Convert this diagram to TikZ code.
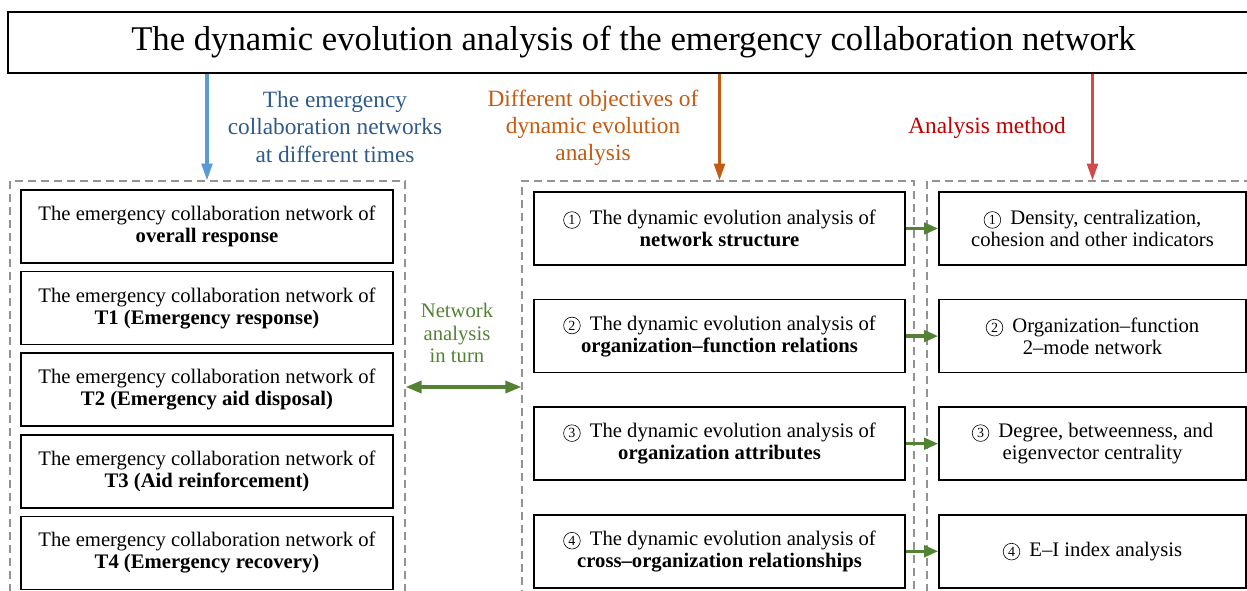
\documentclass[tikz,border=0pt]{standalone}
\usepackage{fontspec}
\setmainfont{Liberation Serif}
\usetikzlibrary{positioning,calc,arrows.meta}
\definecolor{arrowblue}{HTML}{5B9BD5}
\definecolor{textblue}{HTML}{2F5A8A}
\definecolor{darkorange}{HTML}{C55A11}
\definecolor{arrowred}{HTML}{D04A4A}
\definecolor{textred}{HTML}{C00000}
\definecolor{darkgreen}{HTML}{548235}
\newcommand{\circnum}[1]{\tikz[baseline=(cn.base)]\node[circle, draw=black, solid, line width=0.45pt,
    inner sep=0pt, minimum size=12.5pt, font=\fontsize{10.5}{10.5}\selectfont] (cn) {#1};\hspace{0.45em}}
\tikzset{
    evoflow/.style={
        x=0.75pt, y=-0.75pt,
        % Titolo in alto
        titlebox/.style={draw, rectangle, align=center, line width=1.2pt,
                         minimum width=938.25pt, minimum height=45.75pt,
                         inner sep=0pt, font=\fontsize{26}{30}\selectfont},
        % Riquadri delle reti, degli obiettivi e dei metodi
        netbox/.style={draw, rectangle, align=center, line width=1.2pt,
                       minimum width=279pt, minimum height=54.75pt,
                       inner sep=2pt, font=\fontsize{15.5}{16.5}\selectfont},
        objbox/.style={netbox, minimum width=278.25pt},
        methbox/.style={netbox, minimum width=230.25pt},
        % Gruppi tratteggiati
        groupbox/.style={draw=gray!85, rectangle, line width=0.9pt,
                         dash pattern=on 6pt off 3.75pt, inner sep=0pt},
        heading/.style={align=center, font=\fontsize{17.5}{20.3}\selectfont},
        downarrow/.style={line width=2.3pt, -{Triangle[length=12.5pt,width=8pt]}},
        greenarrow/.style={darkgreen, line width=2.5pt, -{Triangle[length=10.5pt,width=8.5pt]}},
        twoway/.style={darkgreen, line width=2.5pt,
                       {Triangle[length=12pt,width=9pt]}-{Triangle[length=12pt,width=9pt]}}
    }
}
\begin{document}
\begin{tikzpicture}[evoflow]
    \useasboundingbox (0,0) rectangle (1247,590);
    \node[titlebox] (title) at (633.5,42.5) {The dynamic evolution analysis of the emergency collaboration network};

    \node[groupbox, minimum width=296.25pt, minimum height=314.25pt] (leftgroup) at (207.5,390.5) {};
    \node[groupbox, minimum width=294pt, minimum height=314.25pt] (midgroup) at (718,390.5) {};
    \node[groupbox, minimum width=257.25pt, minimum height=314.25pt] (rightgroup) at (1098.5,390.5) {};

    \node[netbox] (net0) at (207,226.5) {The emergency collaboration network of\\\textbf{overall response}};
    \node[netbox, below=5.25pt of net0] (net1) {The emergency collaboration network of\\\textbf{T1 (Emergency response)}};
    \node[netbox, below=5.25pt of net1] (net2) {The emergency collaboration network of\\\textbf{T2 (Emergency aid disposal)}};
    \node[netbox, below=5.25pt of net2] (net3) {The emergency collaboration network of\\\textbf{T3 (Aid reinforcement)}};
    \node[netbox, below=5.25pt of net3] (net4) {The emergency collaboration network of\\\textbf{T4 (Emergency recovery)}};

    \node[objbox] (obj1) at (719.5,228.5) {\circnum{1}The dynamic evolution analysis of\\\textbf{network structure}};
    \node[objbox, below=24.75pt of obj1] (obj2) {\circnum{2}The dynamic evolution analysis of\\\textbf{organization–function relations}};
    \node[objbox, below=24.75pt of obj2] (obj3) {\circnum{3}The dynamic evolution analysis of\\\textbf{organization attributes}};
    \node[objbox, below=24.75pt of obj3] (obj4) {\circnum{4}The dynamic evolution analysis of\\\textbf{cross–organization relationships}};

    \node[methbox] (meth1) at (1092.5,228.5) {\circnum{1}Density, centralization,\\cohesion and other indicators};
    \node[methbox, below=24.75pt of meth1] (meth2) {\circnum{2}Organization–function\\2–mode network};
    \node[methbox, below=24.75pt of meth2] (meth3) {\circnum{3}Degree, betweenness, and\\eigenvector centrality};
    \node[methbox, below=24.75pt of meth3] (meth4) {\circnum{4}E–I index analysis};

    \node[heading, textblue] (bluelabel) at (335,127) {The emergency\\collaboration networks\\at different times};
    \node[heading, darkorange] (orangelabel) at (593,128) {Different objectives of\\dynamic evolution\\analysis};
    \node[heading, textred] (redlabel) at (987,128) {Analysis method};
    \node[align=center, darkgreen, font=\fontsize{15.5}{16.8}\selectfont] (turnlabel) at (457,333) {Network\\analysis\\in turn};
    \coordinate (turn) at (457,387);

    \draw[downarrow, arrowblue] (title.south -| net0.north) -- (net0.north |- leftgroup.north);
    \draw[downarrow, darkorange] (title.south -| obj1.north) -- (obj1.north |- midgroup.north);
    \draw[downarrow, arrowred] (title.south -| meth1.north) -- (meth1.north |- rightgroup.north);

    \draw[twoway] (turn -| leftgroup.east) -- (turn -| midgroup.west);
    \draw[greenarrow] (obj1.east) -- (meth1.west);
    \draw[greenarrow] (obj2.east) -- (meth2.west);
    \draw[greenarrow] (obj3.east) -- (meth3.west);
    \draw[greenarrow] (obj4.east) -- (meth4.west);
\end{tikzpicture}
\end{document}
